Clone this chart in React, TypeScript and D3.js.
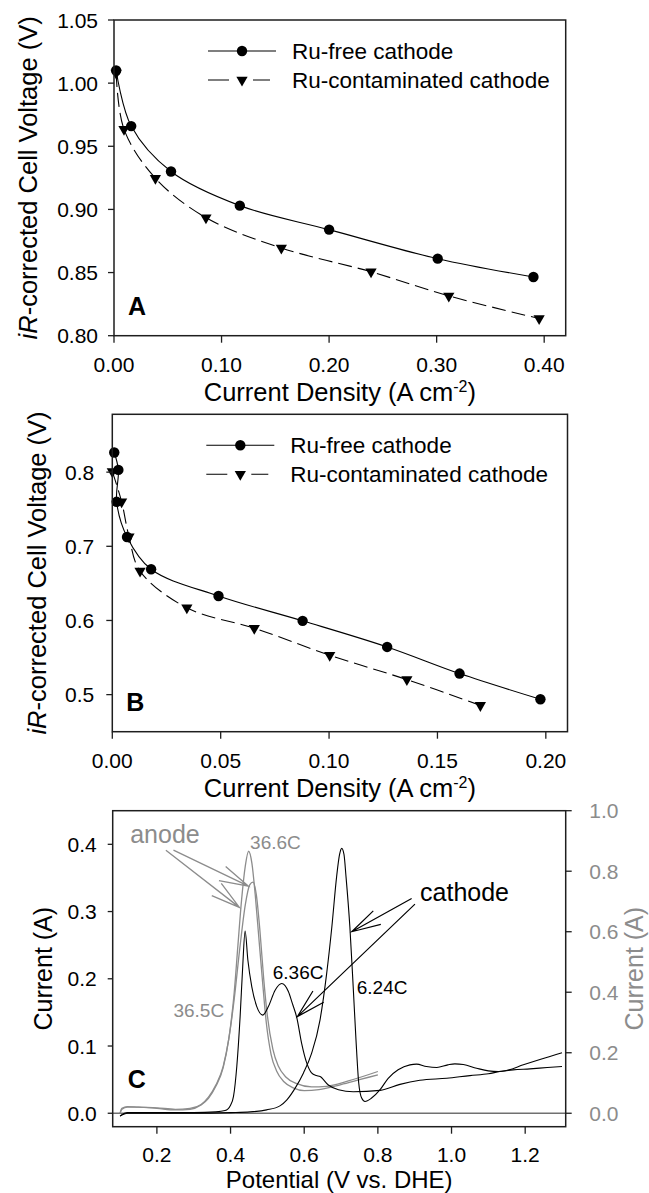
import * as d3 from "d3";

type Pt = [number, number];

const FONT = "'Liberation Sans', Arial, Helvetica, sans-serif";
const GRAY = "#8c8c8c";
const INK = "#1e1e1e";

// Panel A: iR-corrected cell voltage vs current density
const aRuFree: Pt[] = [
  [0.002, 1.01], [0.016, 0.966], [0.053, 0.93], [0.117, 0.903],
  [0.2, 0.884], [0.301, 0.861], [0.39, 0.8465],
];
const aRuCont: Pt[] = [
  [0.002, 1.008], [0.0093, 0.9635], [0.0385, 0.9247], [0.0855, 0.8935],
  [0.1556, 0.8695], [0.239, 0.8506], [0.3113, 0.8315], [0.3953, 0.8136],
];
const aXTicks = [0, 0.1, 0.2, 0.3, 0.4];
const aYTicks = [0.8, 0.85, 0.9, 0.95, 1.0, 1.05];

// Panel B
const bRuFree: Pt[] = [
  [0.0009, 0.8265], [0.0028, 0.803], [0.002, 0.76], [0.0068, 0.7126],
  [0.0179, 0.669], [0.049, 0.633], [0.0878, 0.5995], [0.1268, 0.5643],
  [0.1602, 0.5284], [0.1975, 0.4937],
];
const bRuCont: Pt[] = [
  [0.0, 0.801], [0.0043, 0.76], [0.0077, 0.713], [0.0128, 0.6666],
  [0.0344, 0.617], [0.0655, 0.5896], [0.1003, 0.5531], [0.1359, 0.5203],
  [0.1698, 0.4855],
];
const bXTicks = [0, 0.05, 0.1, 0.15, 0.2];
const bYTicks = [0.5, 0.6, 0.7, 0.8];

const legendLabels = ["Ru-free cathode", "Ru-contaminated cathode"];

// Panel C: stripping voltammograms (cathode on left axis, anode on right axis)
const cathode636: Pt[] = [
  [0.1, -0.004], [0.12, 0.001], [0.2, 0.001], [0.3, 0.001], [0.36, 0.002],
  [0.385, 0.004], [0.4, 0.012], [0.408, 0.025], [0.417, 0.07], [0.426, 0.144],
  [0.433, 0.218], [0.4395, 0.271], [0.447, 0.228], [0.4577, 0.188], [0.471, 0.159],
  [0.4875, 0.146], [0.503, 0.159], [0.521, 0.183], [0.539, 0.193], [0.557, 0.181],
  [0.568, 0.163], [0.58, 0.142], [0.593, 0.104], [0.607, 0.0745], [0.62, 0.06],
  [0.633, 0.056], [0.643, 0.0546], [0.6655, 0.042], [0.693, 0.035], [0.733, 0.032],
  [0.806, 0.034], [0.86, 0.043], [0.914, 0.049], [0.987, 0.052], [1.05, 0.056],
  [1.1, 0.0587], [1.131, 0.062], [1.167, 0.0645], [1.213, 0.066], [1.26, 0.068],
  [1.3, 0.0695],
];
const cathode624: Pt[] = [
  [0.1, -0.004], [0.12, 0.0], [0.3, 0.0], [0.4, 0.001], [0.453, 0.002],
  [0.498, 0.005], [0.534, 0.011], [0.553, 0.02], [0.575, 0.037], [0.598, 0.06],
  [0.62, 0.089], [0.643, 0.139], [0.661, 0.208], [0.675, 0.277], [0.688, 0.352],
  [0.696, 0.385], [0.702, 0.394], [0.708, 0.385], [0.7135, 0.352], [0.724, 0.277],
  [0.733, 0.188], [0.7406, 0.109], [0.748, 0.045], [0.756, 0.0226], [0.765, 0.0175],
  [0.783, 0.0226], [0.806, 0.035], [0.828, 0.052], [0.855, 0.0646], [0.887, 0.072],
  [0.905, 0.073], [0.932, 0.0695], [0.96, 0.068], [0.99, 0.072], [1.009, 0.0735],
  [1.032, 0.0725], [1.068, 0.067], [1.1, 0.063], [1.127, 0.062], [1.149, 0.0636],
  [1.195, 0.072], [1.24, 0.08], [1.3, 0.09],
];
const anode366: Pt[] = [
  [0.1, 0.0], [0.105, 0.013], [0.12, 0.02], [0.15, 0.02], [0.2, 0.016],
  [0.25, 0.011], [0.29, 0.013], [0.32, 0.027], [0.34, 0.049], [0.36, 0.089],
  [0.38, 0.151], [0.395, 0.244], [0.41, 0.4], [0.42, 0.555], [0.43, 0.706],
  [0.44, 0.817], [0.449, 0.866], [0.458, 0.826], [0.467, 0.722], [0.477, 0.577],
  [0.487, 0.433], [0.497, 0.3], [0.51, 0.195], [0.525, 0.14], [0.545, 0.104],
  [0.57, 0.084], [0.6, 0.075], [0.64, 0.078], [0.7, 0.095], [0.75, 0.111],
  [0.8, 0.127],
];
const anode365: Pt[] = [
  [0.1, 0.0], [0.105, 0.016], [0.12, 0.022], [0.15, 0.02], [0.2, 0.018],
  [0.25, 0.013], [0.29, 0.016], [0.32, 0.029], [0.34, 0.053], [0.36, 0.093],
  [0.38, 0.155], [0.395, 0.244], [0.41, 0.378], [0.425, 0.544], [0.44, 0.689],
  [0.452, 0.755], [0.461, 0.764], [0.47, 0.722], [0.48, 0.6], [0.49, 0.444],
  [0.5, 0.322], [0.515, 0.211], [0.53, 0.155], [0.55, 0.12], [0.58, 0.098],
  [0.62, 0.087], [0.66, 0.089], [0.72, 0.107], [0.8, 0.138],
];
const cXTicks = [0.2, 0.4, 0.6, 0.8, 1.0, 1.2];
const cYTicks = [0, 0.1, 0.2, 0.3, 0.4];
const cY2Ticks = [0, 0.2, 0.4, 0.6, 0.8, 1.0];

// annotations in (potential, left-axis current) units
const anodeArrows: [Pt, Pt][] = [
  [[0.2244, 0.3913], [0.424, 0.3062]],
  [[0.245, 0.3913], [0.4485, 0.3378]],
];
const cathodeArrows: [Pt, Pt][] = [
  [[0.8917, 0.3195], [0.729, 0.27]],
  [[0.9007, 0.3111], [0.5814, 0.1437]],
];
const anodeCharges: [string, number, number][] = [
  ["36.6C", 0.453, 0.3926],
  ["36.5C", 0.245, 0.1436],
];
const cathodeCharges: [string, number, number][] = [
  ["6.36C", 0.5145, 0.1992],
  ["6.24C", 0.7426, 0.1774],
];
const electrodeLabels: [string, number, number][] = [
  ["anode", 0.1275, 0.4015],
  ["cathode", 0.9145, 0.3157],
];

type Scale = d3.ScaleLinear<number, number>;

function Frame({ x, y }: { x: Scale; y: Scale }) {
  const [x0, x1] = x.range();
  const [y0, y1] = y.range();
  return (
    <rect x={x0} y={y1} width={x1 - x0} height={y0 - y1}
      fill="none" stroke={INK} strokeWidth={1.5} />
  );
}

function BottomAxis({ x, y, ticks, fmt, labelDy }: any) {
  const y0 = y.range()[0];
  return (
    <g>
      {ticks.map((t: number) => (
        <g key={t}>
          <line x1={x(t)} x2={x(t)} y1={y0} y2={y0 + 7} stroke={INK} strokeWidth={1.3} />
          <text x={x(t)} y={y0 + labelDy} textAnchor="middle" fontSize={21}>{fmt(t)}</text>
        </g>
      ))}
    </g>
  );
}

function LeftAxis({ x, y, ticks, fmt, gap, len = 6 }: any) {
  const x0 = x.range()[0];
  return (
    <g>
      {ticks.map((t: number) => (
        <g key={t}>
          <line x1={x0 - len} x2={x0} y1={y(t)} y2={y(t)} stroke={INK} strokeWidth={1.3} />
          <text x={x0 - gap} y={y(t)} dy="0.36em" textAnchor="end" fontSize={21}>{fmt(t)}</text>
        </g>
      ))}
    </g>
  );
}

function Legend({ x0, top }: { x0: number; top: number }) {
  const l = x0 + 94;
  const r1 = top + 31;
  const r2 = top + 60;
  const tri = d3.symbol(d3.symbolTriangle, 55)()!;
  return (
    <g>
      <line x1={l} x2={l + 68} y1={r1} y2={r1} stroke="#000" strokeWidth={1.1} />
      <circle cx={l + 34} cy={r1} r={5.2} fill="#000" />
      <line x1={l} x2={l + 62} y1={r2} y2={r2} stroke="#000" strokeWidth={1.1}
        strokeDasharray="21 24 17" />
      <path d={tri} transform={`translate(${l + 34},${r2}) rotate(180)`} fill="#000" />
      <text x={x0 + 178} y={r1 + 8} fontSize={22.5}>{legendLabels[0]}</text>
      <text x={x0 + 178} y={r2 + 8} fontSize={22.5}>{legendLabels[1]}</text>
    </g>
  );
}

function YTitle({ cx, cy }: { cx: number; cy: number }) {
  return (
    <text transform={`translate(${cx},${cy}) rotate(-90)`} textAnchor="middle" fontSize={25.5}>
      <tspan fontStyle="italic">iR</tspan>-corrected Cell Voltage (V)
    </text>
  );
}

function XTitle({ cx, y }: { cx: number; y: number }) {
  return (
    <text x={cx} y={y} textAnchor="middle" fontSize={25.5}>
      Current Density (A cm<tspan fontSize={16} dy={-9}>-2</tspan>
      <tspan dy={9}>)</tspan>
    </text>
  );
}

function PolarizationPanel({ x, y, free, cont, xTicks, yTicks, xFmt, yFmt, letter, gap, titleX }: any) {
  const smooth = d3.line<Pt>()
    .x((d) => x(d[0]))
    .y((d) => y(d[1]))
    .curve(d3.curveCatmullRom.alpha(0.5));
  const tri = d3.symbol(d3.symbolTriangle, 55)()!;
  const [x0, x1] = x.range();
  const [y0, y1] = y.range();
  return (
    <g>
      <path d={smooth(cont)!} fill="none" stroke="#000" strokeWidth={1.1} strokeDasharray="14 6" />
      <path d={smooth(free)!} fill="none" stroke="#000" strokeWidth={1.1} />
      {free.map((d: Pt, i: number) => (
        <circle key={i} cx={x(d[0])} cy={y(d[1])} r={5.2} fill="#000" />
      ))}
      {cont.map((d: Pt, i: number) => (
        <path key={i} d={tri} transform={`translate(${x(d[0])},${y(d[1])}) rotate(180)`} fill="#000" />
      ))}
      <Frame x={x} y={y} />
      <BottomAxis x={x} y={y} ticks={xTicks} fmt={xFmt} labelDy={36} />
      <LeftAxis x={x} y={y} ticks={yTicks} fmt={yFmt} gap={gap} />
      <Legend x0={x0} top={y1} />
      <text x={x0 + 14} y={y0 - 21} fontSize={25} fontWeight="bold">{letter}</text>
      <YTitle cx={titleX} cy={(y0 + y1) / 2} />
      <XTitle cx={(x0 + x1) / 2} y={y0 + 65} />
    </g>
  );
}

function arrowPath(s: Pt, t: Pt) {
  const a = Math.atan2(s[1] - t[1], s[0] - t[0]);
  const len = 30;
  const h = (15 * Math.PI) / 180;
  const w1: Pt = [t[0] + len * Math.cos(a + h), t[1] + len * Math.sin(a + h)];
  const w2: Pt = [t[0] + len * Math.cos(a - h), t[1] + len * Math.sin(a - h)];
  return `M${s[0]},${s[1]}L${t[0]},${t[1]}M${w1[0]},${w1[1]}L${t[0]},${t[1]}L${w2[0]},${w2[1]}`;
}

function VoltammetryPanel() {
  const x = d3.scaleLinear().domain([0.08, 1.31]).range([112.7, 565.7]);
  const y = d3.scaleLinear().domain([-0.02, 0.45]).range([1126.7, 810.7]);
  const y2 = d3.scaleLinear().domain([-0.02 / 0.45, 1.0]).range([1126.7, 810.7]);
  const left = d3.line<Pt>().x((d) => x(d[0])).y((d) => y(d[1])).curve(d3.curveMonotoneX);
  const right = d3.line<Pt>().x((d) => x(d[0])).y((d) => y2(d[1])).curve(d3.curveMonotoneX);
  const fmt = d3.format(".1f");
  const [x0, x1] = x.range();
  const [yb, yt] = y.range();
  const px = (p: Pt): Pt => [x(p[0]), y(p[1])];
  return (
    <g>
      <line x1={x0} x2={x1} y1={y(0)} y2={y(0)} stroke="#707070" strokeWidth={1.6} />
      <path d={right(anode366)!} fill="none" stroke={GRAY} strokeWidth={1.3} />
      <path d={right(anode365)!} fill="none" stroke={GRAY} strokeWidth={1.3} />
      <path d={left(cathode636)!} fill="none" stroke="#000" strokeWidth={1.1} />
      <path d={left(cathode624)!} fill="none" stroke="#000" strokeWidth={1.1} />
      {anodeArrows.map(([s, t], i) => (
        <path key={i} d={arrowPath(px(s), px(t))} fill="none" stroke={GRAY} strokeWidth={1.3} />
      ))}
      {cathodeArrows.map(([s, t], i) => (
        <path key={i} d={arrowPath(px(s), px(t))} fill="none" stroke="#000" strokeWidth={1.2} />
      ))}
      {anodeCharges.map(([s, v, c]) => (
        <text key={s} x={x(v)} y={y(c)} fontSize={19} fill={GRAY}>{s}</text>
      ))}
      {cathodeCharges.map(([s, v, c]) => (
        <text key={s} x={x(v)} y={y(c)} fontSize={19} fill="#000">{s}</text>
      ))}
      {electrodeLabels.map(([s, v, c], i) => (
        <text key={s} x={x(v)} y={y(c)} fontSize={25} fill={i === 0 ? GRAY : "#000"}>{s}</text>
      ))}
      <Frame x={x} y={y} />
      <BottomAxis x={x} y={y} ticks={cXTicks} fmt={fmt} labelDy={35} />
      <LeftAxis x={x} y={y} ticks={cYTicks} fmt={fmt} gap={16} len={5} />
      {cY2Ticks.map((t) => (
        <g key={t}>
          <line x1={x1} x2={x1 + 6} y1={y2(t)} y2={y2(t)} stroke={INK} strokeWidth={1.3} />
          <text x={x1 + 23.6} y={y2(t)} dy="0.36em" fontSize={21} fill={GRAY}>{fmt(t)}</text>
        </g>
      ))}
      <text x={x0 + 15} y={yb - 38.5} fontSize={25} fontWeight="bold">C</text>
      <text transform={`translate(51.5,${(yb + yt) / 2}) rotate(-90)`} textAnchor="middle" fontSize={25}>
        Current (A)
      </text>
      <text transform={`translate(642.5,${(yb + yt) / 2}) rotate(-90)`} textAnchor="middle" fontSize={25} fill={GRAY}>
        Current (A)
      </text>
      <text x={(x0 + x1) / 2} y={yb + 61.3} textAnchor="middle" fontSize={24}>
        Potential (V vs. DHE)
      </text>
    </g>
  );
}

export default function App() {
  const xA = d3.scaleLinear().domain([0, 0.42]).range([114, 565.7]);
  const yA = d3.scaleLinear().domain([0.8, 1.05]).range([335.7, 20]);
  const xB = d3.scaleLinear().domain([0, 0.21]).range([112.3, 567.5]);
  const yB = d3.scaleLinear().domain([0.45, 0.878]).range([731.7, 414.3]);
  const f2 = d3.format(".2f");
  const f1 = d3.format(".1f");

  return (
    <svg width={649} height={1193} fontFamily={FONT}
      style={{ position: "absolute", left: 0, top: 0, background: "#fff" }}>
      <PolarizationPanel x={xA} y={yA} free={aRuFree} cont={aRuCont}
        xTicks={aXTicks} yTicks={aYTicks} xFmt={f2} yFmt={f2}
        letter="A" gap={16} titleX={36.5} />
      <PolarizationPanel x={xB} y={yB} free={bRuFree} cont={bRuCont}
        xTicks={bXTicks} yTicks={bYTicks} xFmt={f2} yFmt={f1}
        letter="B" gap={18} titleX={45.7} />
      <VoltammetryPanel />
    </svg>
  );
}
